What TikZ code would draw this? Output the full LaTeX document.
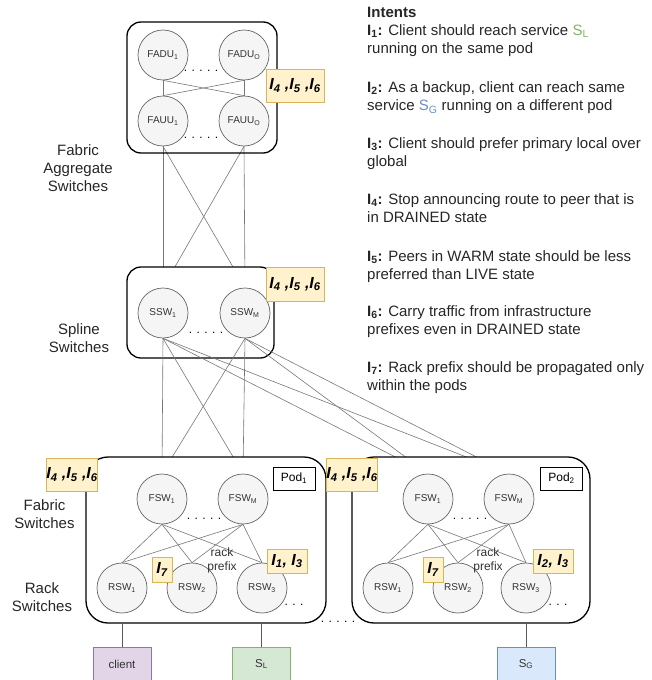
\documentclass[tikz,border=0pt]{standalone}
\usepackage{fontspec}
\setmainfont{Liberation Sans}
\usepackage{tikz}
\usetikzlibrary{positioning}

\definecolor{swfill}{HTML}{F5F5F5}
\definecolor{swline}{HTML}{666666}
\definecolor{txt}{HTML}{333333}
\definecolor{lnk}{HTML}{777777}
\definecolor{ifill}{HTML}{FFF2CC}
\definecolor{iline}{HTML}{D6B656}
\definecolor{cfill}{HTML}{E1D5E7}
\definecolor{cline}{HTML}{9673A6}
\definecolor{lfill}{HTML}{D5E8D4}
\definecolor{lline}{HTML}{82B366}
\definecolor{gfill}{HTML}{DAE8FC}
\definecolor{gline}{HTML}{6C8EBF}

\pgfdeclarelayer{back}
\pgfdeclarelayer{boxes}
\pgfsetlayers{back,boxes,main}

\tikzset{
  sw/.style={circle, draw=swline, fill=swfill, line width=0.7pt, minimum size=50pt, inner sep=0pt, text=txt, font=\fontsize{10}{12}\selectfont},
  tier/.style={draw=black, line width=1.3pt, rounded corners=14pt, inner sep=0pt},
  podbox/.style={tier, fill=white, rounded corners=22pt},
  link/.style={draw=lnk, line width=0.6pt},
  intentbox/.style={draw=iline, fill=ifill, line width=0.8pt, inner sep=0pt, font=\fontsize{16}{18}\selectfont\bfseries\itshape},
  hostbox/.style={line width=1pt, minimum width=58pt, minimum height=34pt, inner sep=0pt, text=txt, font=\fontsize{11.5}{14}\selectfont},
  tierlabel/.style={align=center, inner sep=0pt, font=\fontsize{15}{18}\selectfont, text=black!85},
  dots/.style={inner sep=0pt, font=\fontsize{12}{14}\selectfont},
  intent/.style={anchor=north west, align=left, inner sep=0pt, font=\fontsize{15}{18.6}\selectfont, text=black!85},
}

\begin{document}
\begin{tikzpicture}[x=1pt,y=-1pt]
    \useasboundingbox (0,0) rectangle (652,680);

    % Fabric Aggregate Switches
    \node[sw] (fadu1) at (163,55) {FADU\textsubscript{1}};
    \node[sw] (faduo) at (244,55) {FADU\textsubscript{O}};
    \node[sw] (fauu1) at (163,121) {FAUU\textsubscript{1}};
    \node[sw] (fauuo) at (244,121) {FAUU\textsubscript{O}};
    \node[tier, minimum width=150pt, minimum height=131pt] (fa) at (202,87.5) {};
    \node[dots] (dfa1) at (201,71) {. . . . .};
    \node[dots] (dfa2) at (201,138) {. . . . .};
    \draw[link] (fadu1.south) -- (fauu1.north);
    \draw[link] (fadu1.south) -- (fauuo.north);
    \draw[link] (faduo.south) -- (fauu1.north);
    \draw[link] (faduo.south) -- (fauuo.north);

    % Spline Switches
    \node[sw] (ssw1) at (163,313) {SSW\textsubscript{1}};
    \node[sw] (sswm) at (245,313) {SSW\textsubscript{M}};
    \node[dots] (dssw) at (206,333) {. . . . .};

    % Pod 1
    \node[sw] (p1fsw1) at (162,499) {FSW\textsubscript{1}};
    \node[sw] (p1fswm) at (243,499) {FSW\textsubscript{M}};
    \node[sw] (p1rsw1) at (122,588) {RSW\textsubscript{1}};
    \node[sw] (p1rsw2) at (192,588) {RSW\textsubscript{2}};
    \node[sw] (p1rsw3) at (262,588) {RSW\textsubscript{3}};
    \node[dots] (dp1a) at (204,519) {. . . . .};
    \node[dots] (dp1b) at (294,605) {. . .};

    % Pod 2
    \node[sw] (p2fsw1) at (428,499) {FSW\textsubscript{1}};
    \node[sw] (p2fswm) at (509,499) {FSW\textsubscript{M}};
    \node[sw] (p2rsw1) at (388,588) {RSW\textsubscript{1}};
    \node[sw] (p2rsw2) at (458,588) {RSW\textsubscript{2}};
    \node[sw] (p2rsw3) at (526,588) {RSW\textsubscript{3}};
    \node[dots] (dp2a) at (470,519) {. . . . .};
    \node[dots] (dp2b) at (558,605) {. . .};
    \node[dots] (dpods) at (338,622) {. . . . .};

    % Verbindungen hinter den Boxen
    \begin{pgfonlayer}{back}
    \draw[link] (fauu1.south) -- (ssw1.north);
    \draw[link] (fauu1.south) -- (sswm.north);
    \draw[link] (fauuo.south) -- (ssw1.north);
    \draw[link] (fauuo.south) -- (sswm.north);
    \end{pgfonlayer}
    \begin{pgfonlayer}{boxes}
    \node[tier, fill=white, minimum width=147pt, minimum height=91pt] (spl) at (200.5,312.5) {};
    \draw[link] (ssw1.south) -- (p1fsw1.north);
    \draw[link] (ssw1.south) -- (p1fswm.north);
    \draw[link] (sswm.south) -- (p1fsw1.north);
    \draw[link] (sswm.south) -- (p1fswm.north);
    \draw[link] (ssw1.south) -- (p2fsw1.north);
    \draw[link] (ssw1.south) -- (p2fswm.north);
    \draw[link] (sswm.south) -- (p2fsw1.north);
    \draw[link] (sswm.south) -- (p2fswm.north);
    \node[podbox, minimum width=240pt, minimum height=166pt] (pod1) at (206,540) {};
    \node[podbox, minimum width=238pt, minimum height=166pt] (pod2) at (471,540) {};
    \end{pgfonlayer}

    % Links in den Pods
    \draw[link] (p1fsw1.south) -- (p1rsw1.north);
    \draw[link] (p1fsw1.south) -- (p1rsw2.north);
    \draw[link] (p1fsw1.south) -- (p1rsw3.north);
    \draw[link] (p1fswm.south) -- (p1rsw1.north);
    \draw[link] (p1fswm.south) -- (p1rsw2.north);
    \draw[link] (p1fswm.south) -- (p1rsw3.north);
    \draw[link] (p2fsw1.south) -- (p2rsw1.north);
    \draw[link] (p2fsw1.south) -- (p2rsw2.north);
    \draw[link] (p2fsw1.south) -- (p2rsw3.north);
    \draw[link] (p2fswm.south) -- (p2rsw1.north);
    \draw[link] (p2fswm.south) -- (p2rsw2.north);
    \draw[link] (p2fswm.south) -- (p2rsw3.north);

    \node[draw, line width=0.8pt, minimum width=42pt, minimum height=23pt, inner sep=0pt, font=\fontsize{12}{14}\selectfont] (pod1lbl) at (294,478.5) {Pod\textsubscript{1}};
    \node[draw, line width=0.8pt, minimum width=42pt, minimum height=23pt, inner sep=0pt, font=\fontsize{12}{14}\selectfont] (pod2lbl) at (561.5,478.5) {Pod\textsubscript{2}};
    \node[align=center, inner sep=0pt, text=txt, font=\fontsize{12}{14}\selectfont] (rp1) at (222,560) {rack\\prefix};
    \node[align=center, inner sep=0pt, text=txt, font=\fontsize{12}{14}\selectfont] (rp2) at (488,560) {rack\\prefix};

    % Hosts
    \node[hostbox, draw=cline, fill=cfill] (client) at (122,664) {client};
    \node[hostbox, draw=lline, fill=lfill] (sl) at (261.5,664) {S\textsubscript{L}};
    \node[hostbox, draw=gline, fill=gfill] (sg) at (526,664) {S\textsubscript{G}};
    \draw[link, draw=black!65] (client.north |- pod1.south) -- (client.north);
    \draw[link, draw=black!65] (sl.north |- pod1.south) -- (sl.north);
    \draw[link, draw=black!65] (sg.north |- pod2.south) -- (sg.north);

    % Intent-Markierungen
    \node[intentbox, minimum width=58pt, minimum height=33pt] (ifa) at (295,85.5) {I\textsubscript{4} ,I\textsubscript{5} ,I\textsubscript{6}};
    \node[intentbox, minimum width=58pt, minimum height=34pt] (ispl) at (295,284) {I\textsubscript{4} ,I\textsubscript{5} ,I\textsubscript{6}};
    \node[intentbox, minimum width=50pt, minimum height=33pt] (ipod1) at (72,474.5) {I\textsubscript{4} ,I\textsubscript{5} ,I\textsubscript{6}};
    \node[intentbox, minimum width=50pt, minimum height=33pt] (ipod2) at (352,474.5) {I\textsubscript{4} ,I\textsubscript{5} ,I\textsubscript{6}};
    \node[intentbox, minimum width=20pt, minimum height=25pt] (iseven1) at (162,569.5) {I\textsubscript{7}};
    \node[intentbox, minimum width=20pt, minimum height=25pt] (iseven2) at (433,569.5) {I\textsubscript{7}};
    \node[intentbox, minimum width=40pt, minimum height=24pt] (ione) at (287,561) {I\textsubscript{1}, I\textsubscript{3}};
    \node[intentbox, minimum width=40pt, minimum height=24pt] (itwo) at (553,561) {I\textsubscript{2}, I\textsubscript{3}};

    % Ebenen
    \node[tierlabel] (tfa) at (78,168) {Fabric\\Aggregate\\Switches};
    \node[tierlabel] (tspl) at (79,338.5) {Spline\\Switches};
    \node[tierlabel] (tfsw) at (44.5,514.5) {Fabric\\Switches};
    \node[tierlabel] (trsw) at (42,597) {Rack\\Switches};

    % Intents
    \node[intent] (int0) at (367,7) {\textbf{Intents}};
    \node[intent] (int1) at (367,24) {\textbf{I\textsubscript{1}:} Client should reach service \textcolor{lline}{S\textsubscript{L}}\\running on the same pod};
    \node[intent] (int2) at (367,81) {\textbf{I\textsubscript{2}:} As a backup, client can reach same\\service \textcolor{gline}{S\textsubscript{G}} running on a different pod};
    \node[intent] (int3) at (367,137) {\textbf{I\textsubscript{3}:} Client should prefer primary local over\\global};
    \node[intent] (int4) at (367,193) {\textbf{I\textsubscript{4}:} Stop announcing route to peer that is\\in DRAINED state};
    \node[intent] (int5) at (367,250) {\textbf{I\textsubscript{5}:} Peers in WARM state should be less\\preferred than LIVE state};
    \node[intent] (int6) at (367,305) {\textbf{I\textsubscript{6}:} Carry traffic from infrastructure\\prefixes even in DRAINED state};
    \node[intent] (int7) at (367,361) {\textbf{I\textsubscript{7}:} Rack prefix should be propagated only\\within the pods};
\end{tikzpicture}
\end{document}
